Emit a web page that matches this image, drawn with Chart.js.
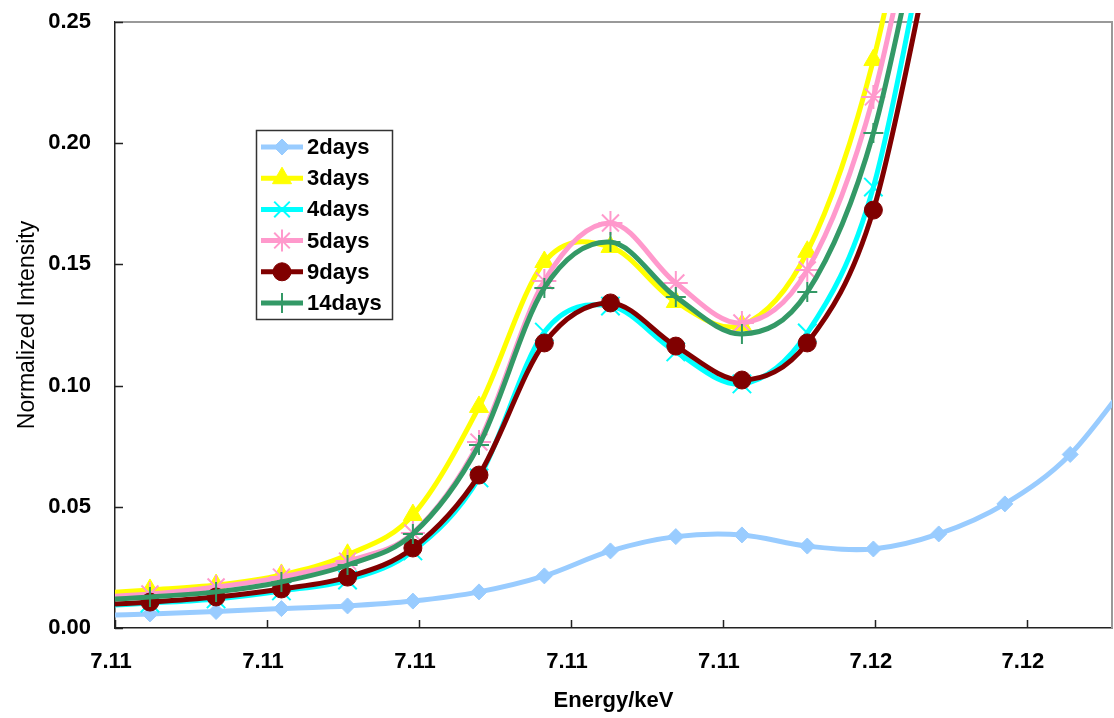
<!DOCTYPE html>
<html lang="en">
<head>
  <meta charset="UTF-8" />
  <title>Normalized Intensity vs Energy</title>
  <script src="https://cdn.jsdelivr.net/npm/chart.js"></script>
  <style>
    html, body { margin: 0; padding: 0; background: #fff; }
    #chart { display: block; }
  </style>
</head>
<body>
<canvas id="chart" width="1114" height="718"></canvas>

<script>
// energy grid (keV) shared by all spectra
const energy = [7.10560, 7.10646, 7.10733, 7.10819, 7.10906, 7.10992, 7.11079, 7.11165,
  7.11252, 7.11338, 7.11425, 7.11511, 7.11598, 7.11684, 7.11771, 7.11857, 7.11944];

// normalized intensities per aging time
const days2  = [0.0050, 0.0058, 0.0068, 0.0080, 0.0091, 0.0111, 0.0149, 0.0215, 0.0318,
  0.0377, 0.0384, 0.0338, 0.0326, 0.0388, 0.0512, 0.0716, 0.1060];
const days3  = [0.0140, 0.0157, 0.0177, 0.0219, 0.0302, 0.0466, 0.0912, 0.1510, 0.1572,
  0.1345, 0.1250, 0.1552, 0.2343, 0.3660];
const days4  = [0.0088, 0.0103, 0.0120, 0.0153, 0.0198, 0.0318, 0.0619, 0.1221, 0.1328,
  0.1139, 0.1007, 0.1217, 0.1819, 0.3130];
const days5  = [0.0125, 0.0140, 0.0169, 0.0210, 0.0276, 0.0392, 0.0767, 0.1432, 0.1671,
  0.1423, 0.1258, 0.1477, 0.2191, 0.3460];
const days9  = [0.0092, 0.0107, 0.0128, 0.0161, 0.0210, 0.0330, 0.0631, 0.1176, 0.1341,
  0.1163, 0.1023, 0.1176, 0.1724, 0.2960];
const days14 = [0.0112, 0.0128, 0.0149, 0.0190, 0.0260, 0.0388, 0.0755, 0.1403, 0.1592,
  0.1366, 0.1213, 0.1386, 0.2042, 0.3290];

const seriesNames = ['2days', '3days', '4days', '5days', '9days', '14days'];
const seriesValues = [days2, days3, days4, days5, days9, days14];

const xTickValues = [7.106, 7.108, 7.110, 7.112, 7.114, 7.116, 7.118];
const xTickLabels = ['7.11', '7.11', '7.11', '7.11', '7.11', '7.12', '7.12'];

// look of each series: color, marker shape, marker size, marker stroke
const styles = [
  { color: '#99CCFF', point: 'rectRot',  radius: 8,  pw: 1 },
  { color: '#FFFF00', point: 'triangle', radius: 11, pw: 1 },
  { color: '#00FFFF', point: 'crossRot', radius: 13, pw: 2 },
  { color: '#FF99CC', point: 'star',     radius: 12, pw: 2 },
  { color: '#800000', point: 'circle',   radius: 9,  pw: 1 },
  { color: '#339966', point: 'cross',    radius: 10, pw: 2 }
];

const FONT = "'Liberation Sans', Arial, Helvetica, sans-serif";
Chart.defaults.font.family = FONT;
Chart.defaults.color = '#000';

const datasets = seriesValues.map((vals, i) => ({
  label: seriesNames[i],
  data: vals.map((v, k) => ({ x: energy[k], y: v })),
  borderColor: styles[i].color,
  backgroundColor: styles[i].color,
  borderWidth: 5,
  tension: 0.4,
  pointStyle: styles[i].point,
  pointRadius: styles[i].radius,
  pointHoverRadius: styles[i].radius,
  pointBackgroundColor: styles[i].color,
  pointBorderColor: styles[i].color,
  pointBorderWidth: styles[i].pw,
  order: seriesValues.length - i,
  clip: { left: 0, top: 9, right: 0, bottom: 0 }
}));

// uniform cardinal spline (spreadsheet-style smoothing) instead of the
// distance-weighted default, so peaks can overshoot a little
const smoothPlugin = {
  id: 'smooth',
  beforeDatasetsDraw(chart) {
    chart.data.datasets.forEach((ds, di) => {
      const meta = chart.getDatasetMeta(di);
      const pts = meta.data;
      const n = pts.length;
      for (let i = 0; i < n; i++) {
        const a = pts[Math.max(i - 1, 0)];
        const b = pts[Math.min(i + 1, n - 1)];
        const p = pts[i];
        const tx = (b.x - a.x) / 6;
        const ty = (b.y - a.y) / 6;
        p.cp1x = p.x - tx; p.cp1y = p.y - ty;
        p.cp2x = p.x + tx; p.cp2y = p.y + ty;
      }
      if (meta.dataset) {
        meta.dataset._pointsUpdated = true;
        meta.dataset._path = undefined;
      }
    });
  }
};

// gray top/right frame under the curves, inward tick marks on both axes
const framePlugin = {
  id: 'frame',
  beforeDatasetsDraw(chart) {
    const { ctx, chartArea: a, scales } = chart;
    ctx.save();
    ctx.strokeStyle = '#999';
    ctx.lineWidth = 2;
    ctx.beginPath();
    ctx.moveTo(a.left, a.top);
    ctx.lineTo(a.right, a.top);
    ctx.lineTo(a.right, a.bottom);
    ctx.stroke();

    ctx.strokeStyle = '#222';
    ctx.lineWidth = 1.5;
    ctx.beginPath();
    scales.x.ticks.forEach(t => {
      const px = Math.round(scales.x.getPixelForValue(t.value)) + 0.5;
      ctx.moveTo(px, a.bottom);
      ctx.lineTo(px, a.bottom - 8);
    });
    scales.y.ticks.forEach(t => {
      const py = Math.round(scales.y.getPixelForValue(t.value)) + 0.5;
      ctx.moveTo(a.left, py);
      ctx.lineTo(a.left + 8, py);
    });
    ctx.stroke();
    ctx.restore();
  }
};

// boxed legend sitting inside the plot
const boxLegend = {
  id: 'boxLegend',
  afterDraw(chart) {
    const ctx = chart.ctx;
    const box = { x: 256, y: 130, w: 136, h: 189 };
    ctx.save();
    ctx.fillStyle = '#fff';
    ctx.fillRect(box.x, box.y, box.w, box.h);
    ctx.strokeStyle = '#333';
    ctx.lineWidth = 1.5;
    ctx.strokeRect(box.x + 0.5, box.y + 0.5, box.w, box.h);

    ctx.font = 'bold 22px ' + FONT;
    ctx.textBaseline = 'middle';
    chart.data.datasets.forEach((ds, i) => {
      const y = box.y + 17 + i * 31.2;
      ctx.strokeStyle = ds.borderColor;
      ctx.lineWidth = 5;
      ctx.beginPath();
      ctx.moveTo(box.x + 5, y);
      ctx.lineTo(box.x + 47, y);
      ctx.stroke();

      ctx.fillStyle = ds.pointBackgroundColor;
      ctx.strokeStyle = ds.pointBorderColor;
      ctx.lineWidth = ds.pointBorderWidth;
      Chart.helpers.drawPoint(ctx, {
        pointStyle: ds.pointStyle,
        radius: Math.min(ds.pointRadius, 11),
        rotation: 0,
        borderWidth: ds.pointBorderWidth
      }, box.x + 26, y);

      ctx.fillStyle = '#000';
      ctx.fillText(ds.label, box.x + 51, y + 1);
    });
    ctx.restore();
  }
};

new Chart(document.getElementById('chart'), {
  type: 'line',
  data: { datasets },
  plugins: [smoothPlugin, framePlugin, boxLegend],
  options: {
    responsive: false,
    animation: false,
    events: [],
    layout: { autoPadding: false, padding: { top: 22, right: 2, left: 0, bottom: 0 } },
    elements: { line: { capBezierPoints: false } },
    plugins: {
      legend: { display: false },
      tooltip: { enabled: false }
    },
    scales: {
      x: {
        type: 'linear',
        min: 7.106,
        max: 7.11912,
        afterBuildTicks: scale => { scale.ticks = xTickValues.map(v => ({ value: v })); },
        afterFit: scale => {
          scale.height = 90;
          scale.paddingLeft = 0;
          scale.paddingRight = 0;
        },
        grid: { display: false, drawTicks: false },
        border: { display: true, color: '#222', width: 1.5 },
        ticks: {
          autoSkip: false,
          maxRotation: 0,
          padding: 21,
          labelOffset: -4,
          font: { size: 22, weight: 'bold' },
          callback: (v, i) => xTickLabels[i]
        },
        title: {
          display: true,
          text: 'Energy/keV',
          font: { size: 22, weight: 'bold' },
          padding: { top: 0, bottom: 4 }
        }
      },
      y: {
        min: 0,
        max: 0.25,
        afterFit: scale => {
          scale.width = 115;
          scale.paddingTop = 0;
          scale.paddingBottom = 0;
        },
        grid: { display: false, drawTicks: false },
        border: { display: true, color: '#222', width: 1.5 },
        ticks: {
          stepSize: 0.05,
          padding: 24,
          font: { size: 22, weight: 'bold' },
          callback: v => v.toFixed(2)
        },
        title: {
          display: true,
          text: 'Normalized Intensity',
          font: { size: 23 },
          padding: { top: 14, bottom: 0 }
        }
      }
    }
  }
});
</script>
</body>
</html>
